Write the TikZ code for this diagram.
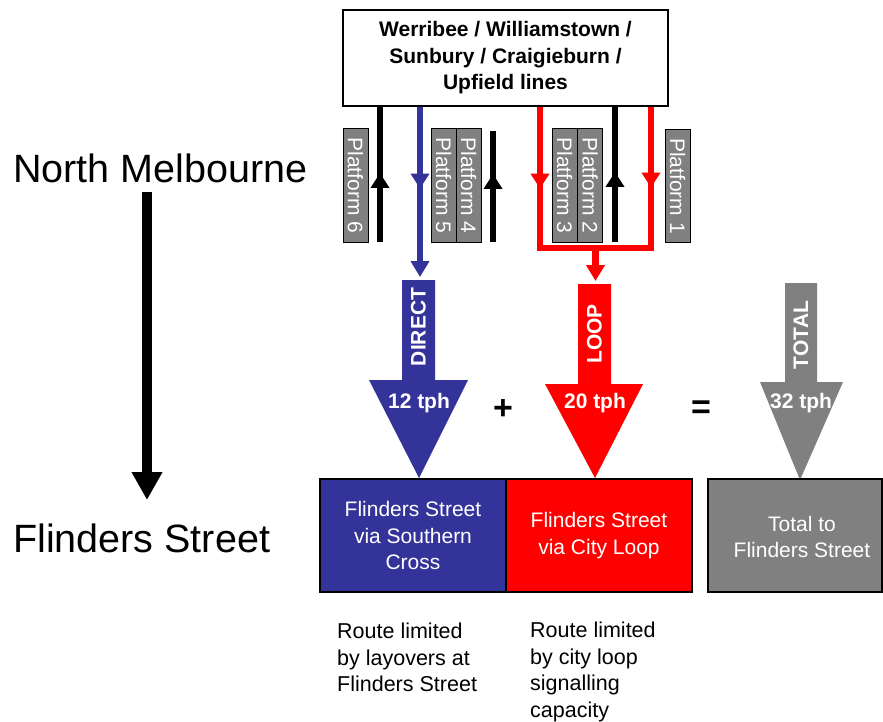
\documentclass[tikz,border=0pt]{standalone}
\usepackage{fontspec}
\setmainfont{Liberation Sans}
\usetikzlibrary{arrows.meta,decorations.markings}
\definecolor{lineblue}{RGB}{51,51,153}
\definecolor{platgrey}{RGB}{128,128,128}

\begin{document}
\begin{tikzpicture}[x=1pt,y=-1pt,
	track/.style={line width=6.5pt,line join=miter},
	trackend/.style={-{Triangle[width=18pt,length=16pt]}},
	passarrow/.style={postaction={decorate},decoration={markings,mark=at position #1 with {\arrow{Triangle[width=18pt,length=15pt]}}}},
	platform/.style={draw,line width=1pt,fill=platgrey,text=white,rotate=-90,minimum width=113pt,minimum height=25pt,inner sep=0pt,font=\fontsize{21}{24}\selectfont},
	dest/.style={draw,line width=1.2pt,text=white,align=center,minimum height=113pt,inner sep=0pt,font=\fontsize{21}{26.5}\selectfont},
	note/.style={align=left,anchor=north west,inner sep=0pt,font=\fontsize{21.5}{26.5}\selectfont},
	rate/.style={text=white,inner sep=0pt,font=\bfseries\fontsize{21}{25}\selectfont},
	flow/.style={text=white,rotate=90,inner sep=0pt,font=\bfseries\fontsize{21}{25}\selectfont},
	op/.style={inner sep=0pt,font=\bfseries\fontsize{34}{40}\selectfont},
	station/.style={anchor=base west,inner sep=0pt,font=\fontsize{39.5}{46}\selectfont}]
	\useasboundingbox (0,0) rectangle (883,722);
	\node[station] (nmel) at (13,183) {North Melbourne};
	\node[station] (flst) at (13,552) {Flinders Street};
	\coordinate (dirtop) at (147,192);
	\coordinate (dirbot) at (147,500);
	\draw[line width=9.5pt,-{Triangle[width=29pt,length=28pt]}] (dirtop) -- (dirbot);
	\node[draw,line width=1.2pt,minimum width=325pt,minimum height=96pt,align=center,font=\bfseries\fontsize{21}{26.5}\selectfont] (lines) at (505.5,58) {Werribee / Williamstown /\\Sunbury / Craigieburn /\\Upfield lines};
	\node[platform] (pf6) at (355.5,185.5) {Platform 6};
	\node[platform] (pf5) at (443.5,185.5) {Platform 5};
	\node[platform] (pf4) at (468.5,185.5) {Platform 4};
	\node[platform] (pf3) at (564.5,185.5) {Platform 3};
	\node[platform] (pf2) at (590,185.5) {Platform 2};
	\node[platform] (pf1) at (677.5,186) {Platform 1};
	\coordinate (up6) at (380,242);
	\coordinate (up4) at (493,242);
	\coordinate (up4top) at (493,131);
	\coordinate (up2) at (615,242);
	\coordinate (dtop) at (420,277);
	\coordinate (loopL) at (540,248);
	\coordinate (loopR) at (651,248);
	\coordinate (loopM) at (595.5,248);
	\coordinate (ltop) at (595.5,281);
	\draw[track,passarrow=69pt] (up6) -- (lines.south -| up6);
	\draw[track,passarrow=68pt] (up4) -- (up4top);
	\draw[track,passarrow=70pt] (up2) -- (lines.south -| up2);
	\draw[track,lineblue,passarrow=82pt,trackend] (lines.south -| dtop) -- (dtop);
	\draw[track,red,passarrow=82pt] (lines.south -| loopL) -- (loopL) -- (loopR);
	\draw[track,red,passarrow=81pt] (lines.south -| loopR) -- (loopR) -- (loopM);
	\draw[track,red,trackend] (loopM) -- (ltop);
	\fill[lineblue] (402,280) -- (435,280) -- (435,380) -- (468,380) -- (419,478) -- (369,380) -- (402,380) -- cycle;
	\fill[red] (578,284) -- (611,284) -- (611,384) -- (643,384) -- (595,478) -- (545,384) -- (578,384) -- cycle;
	\fill[platgrey] (785,283) -- (817,283) -- (817,382) -- (843,382) -- (800,480) -- (760,382) -- (785,382) -- cycle;
	\node[flow] (direct) at (418.5,327) {DIRECT};
	\node[flow] (loop) at (594.5,334) {LOOP};
	\node[flow] (total) at (801,335) {TOTAL};
	\node[rate] (r12) at (419,403) {12 tph};
	\node[rate] (r20) at (595,403) {20 tph};
	\node[rate] (r32) at (801,403) {32 tph};
	\node[op] (plus) at (503,410) {+};
	\node[op] (eq) at (701,410) {=};
	\node[dest,fill=lineblue,minimum width=186pt] (viasx) at (413,535.5) {Flinders Street\\via Southern\\Cross};
	\node[dest,fill=red,minimum width=186pt] (vialoop) at (599,535.5) {Flinders Street\\via City Loop};
	\draw[line width=1.2pt,fill=platgrey] (708,479) rectangle (882,592);
	\node[text=white,align=center,font=\fontsize{21}{26.5}\selectfont] (tofs) at (802,537) {Total to\\Flinders Street};
	\node[note] (whyd) at (337,623) {Route limited\\by layovers at\\Flinders Street};
	\node[note] (whyl) at (530,622) {Route limited\\by city loop\\signalling\\capacity};
\end{tikzpicture}
\end{document}
